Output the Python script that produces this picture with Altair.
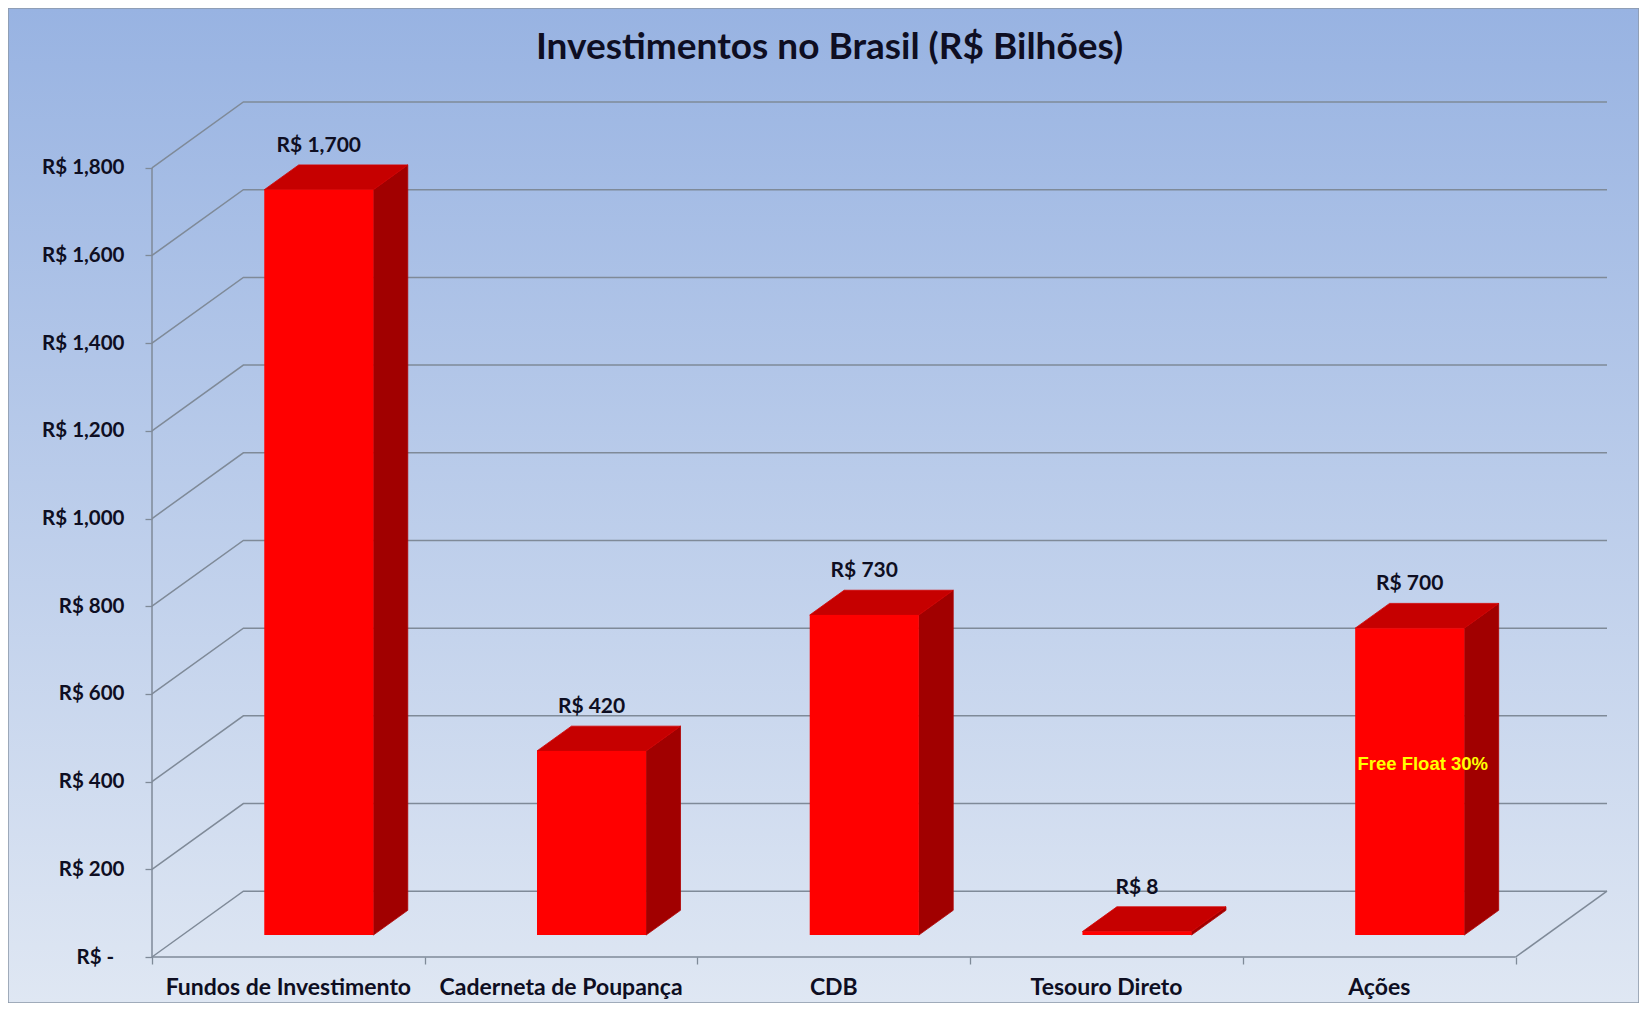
import altair as alt
import pandas as pd

# ---- data ----
categories = ["Fundos de Investimento", "Caderneta de Poupança", "CDB", "Tesouro Direto", "Ações"]
values = [1700, 420, 730, 8, 700]
y_ticks = [0, 200, 400, 600, 800, 1000, 1200, 1400, 1600, 1800]
title_text = "Investimentos no Brasil (R$ Bilhões)"
annot_text = ["Free Float 30%"]
annot_cat = ["Ações"]
annot_value = [390]

# ---- 3-D projection constants (depth axis mapped into data units) ----
DX = 0.335   # depth shift along x, in category units
DY = 150.0   # depth shift along y, in value units
D1 = 1 / 3   # bar front-face depth
D2 = 0.71    # bar back-face depth
BL, BR = 0.3, 0.7  # bar extent inside its category band
N = len(categories)
YMAX = max(y_ticks)

W, H = 1455, 855
PAD = {"left": 144, "top": 94, "right": 32, "bottom": 46}

xs = alt.Scale(domain=[0, N + DX], nice=False, zero=False)
ys = alt.Scale(domain=[0, YMAX + DY], nice=False, zero=False)

FONT = "Lato"
TXT = "#0e0e22"
GRID = "#7f8a98"

X = alt.X("x:Q", scale=xs, title=None,
          axis=alt.Axis(values=list(range(N + 1)), labels=False, domain=False, grid=False,
                        tickSize=7, tickColor=GRID, tickWidth=1.3, zindex=1))
Y = alt.Y("y:Q", scale=ys, title=None,
          axis=alt.Axis(values=y_ticks, domain=False, grid=False, tickSize=7, tickColor=GRID,
                        tickWidth=1.3, labelPadding=21, labelFont=FONT, labelFontSize=20.5,
                        labelFontWeight="bold", labelColor=TXT, zindex=1,
                        labelExpr="datum.value == 0 ? 'R$ -\u2002\u200b' : 'R$ ' + format(datum.value, ',')"))
X2 = alt.X2("x2:Q")
Y2 = alt.Y2("y2:Q")

# ---- background ----
bg = alt.Chart(pd.DataFrame({"k": [0]})).mark_rect(
    fill=alt.Gradient(gradient="linear", x1=0, y1=0, x2=0, y2=1,
                      stops=[alt.GradientStop(offset=0, color="#98b3e2"),
                             alt.GradientStop(offset=1, color="#dfe7f3")]),
    stroke="#8c98a8", strokeWidth=1.5
).encode(x=alt.value(-PAD["left"]), x2=alt.value(W + PAD["right"]),
         y=alt.value(-PAD["top"]), y2=alt.value(H + PAD["bottom"]))

# ---- gridlines: side-wall diagonal + back-wall horizontal ----
g_rows = []
for v in y_ticks:
    g_rows += [{"g": v, "o": 0, "x": 0, "y": v},
               {"g": v, "o": 1, "x": DX, "y": v + DY},
               {"g": v, "o": 2, "x": N + DX, "y": v + DY}]
grid = alt.Chart(pd.DataFrame(g_rows)).mark_line(color=GRID, strokeWidth=1.5).encode(
    x=X, y=Y, detail="g:N", order="o:Q")

# ---- frame edges: front axis, front floor, right floor edge ----
e_rows = [{"g": "axis", "o": 0, "x": 0, "y": 0}, {"g": "axis", "o": 1, "x": 0, "y": YMAX},
          {"g": "floor", "o": 0, "x": 0, "y": 0}, {"g": "floor", "o": 1, "x": N, "y": 0},
          {"g": "right", "o": 0, "x": N, "y": 0}, {"g": "right", "o": 1, "x": N + DX, "y": DY}]
edges = alt.Chart(pd.DataFrame(e_rows)).mark_line(color=GRID, strokeWidth=1.5).encode(
    x=X, y=Y, detail="g:N", order="o:Q")

# ---- bars ----
front_rows, top_rows, side_rows = [], [], []
for i, (c, v) in enumerate(zip(categories, values)):
    front_rows.append({"cat": c, "value": v,
                       "x": i + BL + DX * D1, "x2": i + BR + DX * D1,
                       "y": DY * D1, "y2": v + DY * D1})
    top_rows += [{"cat": c, "y": v + DY * D1, "x": i + BL + DX * D1, "x2": i + BR + DX * D1},
                 {"cat": c, "y": v + DY * D2, "x": i + BL + DX * D2, "x2": i + BR + DX * D2}]
    side_rows += [{"cat": c, "x": i + BR + DX * D1, "y": DY * D1, "y2": v + DY * D1},
                  {"cat": c, "x": i + BR + DX * D2, "y": DY * D2, "y2": v + DY * D2}]

side = alt.Chart(pd.DataFrame(side_rows)).mark_area(
    orient="vertical", color="#a10000", stroke="#b00000", strokeWidth=0.8
).encode(x=X, y=Y, y2=Y2, detail="cat:N")

top = alt.Chart(pd.DataFrame(top_rows)).mark_area(
    orient="horizontal", color="#c60000", stroke="#d40000", strokeWidth=0.8
).encode(y=Y, x=X, x2=X2, detail="cat:N")

front = alt.Chart(pd.DataFrame(front_rows)).mark_rect(color="#ff0000").encode(
    x=X, x2=X2, y=Y, y2=Y2)

# ---- value labels ----
lab_rows = [{"value": v, "x": i + 0.5 + DX * D1, "y": v + DY * D2}
            for i, v in enumerate(values)]
vlabels = alt.Chart(pd.DataFrame(lab_rows)).transform_calculate(
    txt="'R$ ' + format(datum.value, ',')"
).mark_text(font=FONT, fontSize=21, fontWeight="bold", color=TXT, baseline="bottom", dy=-9).encode(
    x=X, y=Y, text="txt:N")

# ---- category labels ----
cat_rows = [{"cat": c, "x": i + 0.5, "y": 0} for i, c in enumerate(categories)]
clabels = alt.Chart(pd.DataFrame(cat_rows)).mark_text(
    font=FONT, fontSize=23, fontWeight="bold", color=TXT, baseline="middle", dy=31
).encode(x=X, y=Y, text="cat:N")

# ---- annotation ----
a_rows = [{"t": t, "x": categories.index(c) + 0.5 + DX * D1, "y": v + DY * D1}
          for t, c, v in zip(annot_text, annot_cat, annot_value)]
annot = alt.Chart(pd.DataFrame(a_rows)).mark_text(
    font="Liberation Sans", fontSize=18.5, fontWeight="bold", color="#ffff00",
    baseline="middle", dx=13
).encode(x=X, y=Y, text="t:N")

# ---- title (placed at the top of the chart, just left of the plot centre) ----
ttl = alt.Chart(pd.DataFrame({"t": [title_text]})).mark_text(
    font=FONT, fontSize=37, fontWeight="bold", color=TXT, baseline="middle", align="center"
).encode(x=alt.value(W / 2 - 50), y=alt.value(-54), text="t:N")

chart = alt.layer(bg, grid, edges, side, top, front, vlabels, clabels, annot, ttl).properties(
    width=W, height=H,
    padding=PAD,
    autosize=alt.AutoSizeParams(type="none"),
).configure_view(stroke=None)

chart.save("out.html", embed_options={"renderer": "svg", "actions": False})
